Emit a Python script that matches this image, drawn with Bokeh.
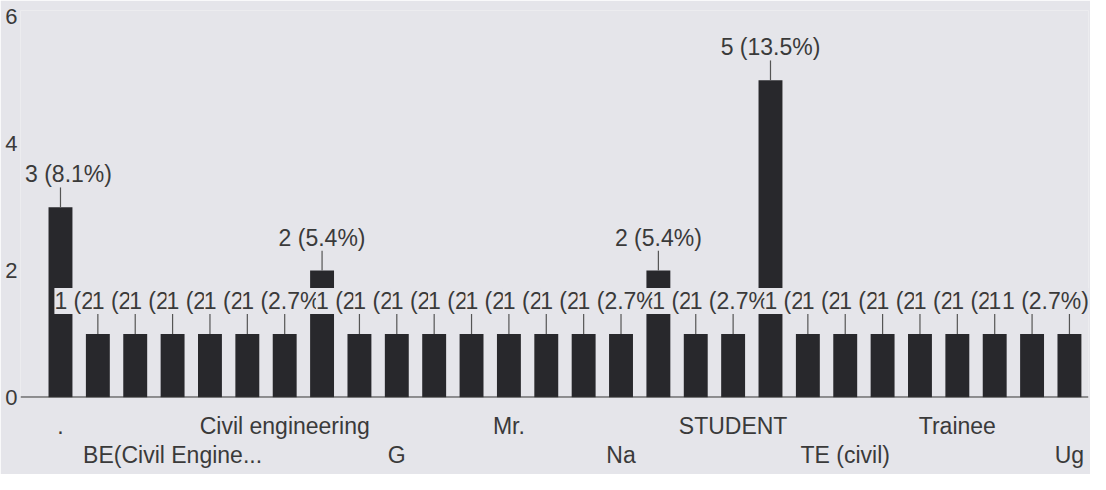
from bokeh.plotting import figure
from bokeh.models import ColumnDataSource, Range1d, FixedTicker, LinearAxis, Span, LabelSet
from bokeh.core.properties import value
from bokeh.embed import file_html
from bokeh.resources import INLINE
import math

# ---- data ----
categories = [".", "", "", "BE(Civil Engine...", "", "", "Civil engineering", "", "",
              "G", "", "", "Mr.", "", "", "Na", "", "", "STUDENT", "", "",
              "TE (civil)", "", "", "Trainee", "", "", "Ug"]
counts = [3, 1, 1, 1, 1, 1, 1, 2, 1, 1, 1, 1, 1, 1, 1, 1, 2, 1, 1, 5, 1, 1, 1, 1, 1, 1, 1, 1]
total_responses = 37
y_ticks = [0, 2, 4, 6]

BG = "#e5e5ea"
BAR = "#28282c"
TXT = "#3a3a3a"
FONT = "Liberation Sans"

xs = list(range(len(counts)))
labels = [f"{c} ({c / total_responses * 100:.1f}%)" for c in counts]
# keep the outermost annotations inside the plotting area
last = len(counts) - 1
dx = [8 if i == 0 else (-24 if i == last else 0) for i in xs]
src = ColumnDataSource(dict(x=xs, top=counts, label=labels, dx=dx))

p = figure(width=1090, height=474, output_backend="svg", toolbar_location=None,
           x_range=Range1d(-1.07, len(counts) - 0.49), y_range=Range1d(0, 6.1),
           background_fill_color=BG, border_fill_color=BG,
           min_border_left=20, min_border_right=2, min_border_top=10, min_border_bottom=77)
p.outline_line_color = None
p.grid.visible = False

p.vbar(x="x", top="top", bottom=0, width=0.64, source=src, fill_color=BAR, line_color=None)
p.add_layout(Span(location=0, dimension="width", line_color="#333333", line_width=2))

# annotation stems and labels
p.ray(x="x", y="top", length=20, length_units="screen", angle=math.pi / 2,
      source=src, line_color="#555555", line_width=1.2)
p.add_layout(LabelSet(x="x", y="top", text="label", source=src, y_offset=20, x_offset="dx",
                      text_align="center", text_baseline="bottom", text_font=value(FONT),
                      text_font_size="23px", text_color=TXT,
                      background_fill_color=BG))

# y axis
yax = p.yaxis[0]
yax.ticker = FixedTicker(ticks=y_ticks)
yax.axis_line_color = None
yax.major_tick_line_color = None
yax.minor_tick_line_color = None
yax.major_tick_out = 0
yax.minor_tick_out = 0
yax.major_label_standoff = 3
yax.major_label_text_font = FONT
yax.major_label_text_font_size = "22px"
yax.major_label_text_color = TXT

# x axes: staggered labels in two rows
shown = [i for i, c in enumerate(categories) if c]
row1 = shown[0::2]
row2 = shown[1::2]

def style_x(ax, ticks, standoff):
    ax.ticker = FixedTicker(ticks=ticks)
    ax.major_label_overrides = {i: categories[i] for i in ticks}
    ax.axis_line_color = None
    ax.major_tick_line_color = None
    ax.minor_tick_line_color = None
    ax.major_tick_out = 0
    ax.minor_tick_out = 0
    ax.major_label_standoff = standoff
    ax.major_label_text_font = FONT
    ax.major_label_text_font_size = "23px"
    ax.major_label_text_color = TXT

style_x(p.xaxis[0], row1, 15)
ax2 = LinearAxis()
style_x(ax2, row2, 0)
p.add_layout(ax2, "below")

open("out.html", "w").write(file_html(p, INLINE))
